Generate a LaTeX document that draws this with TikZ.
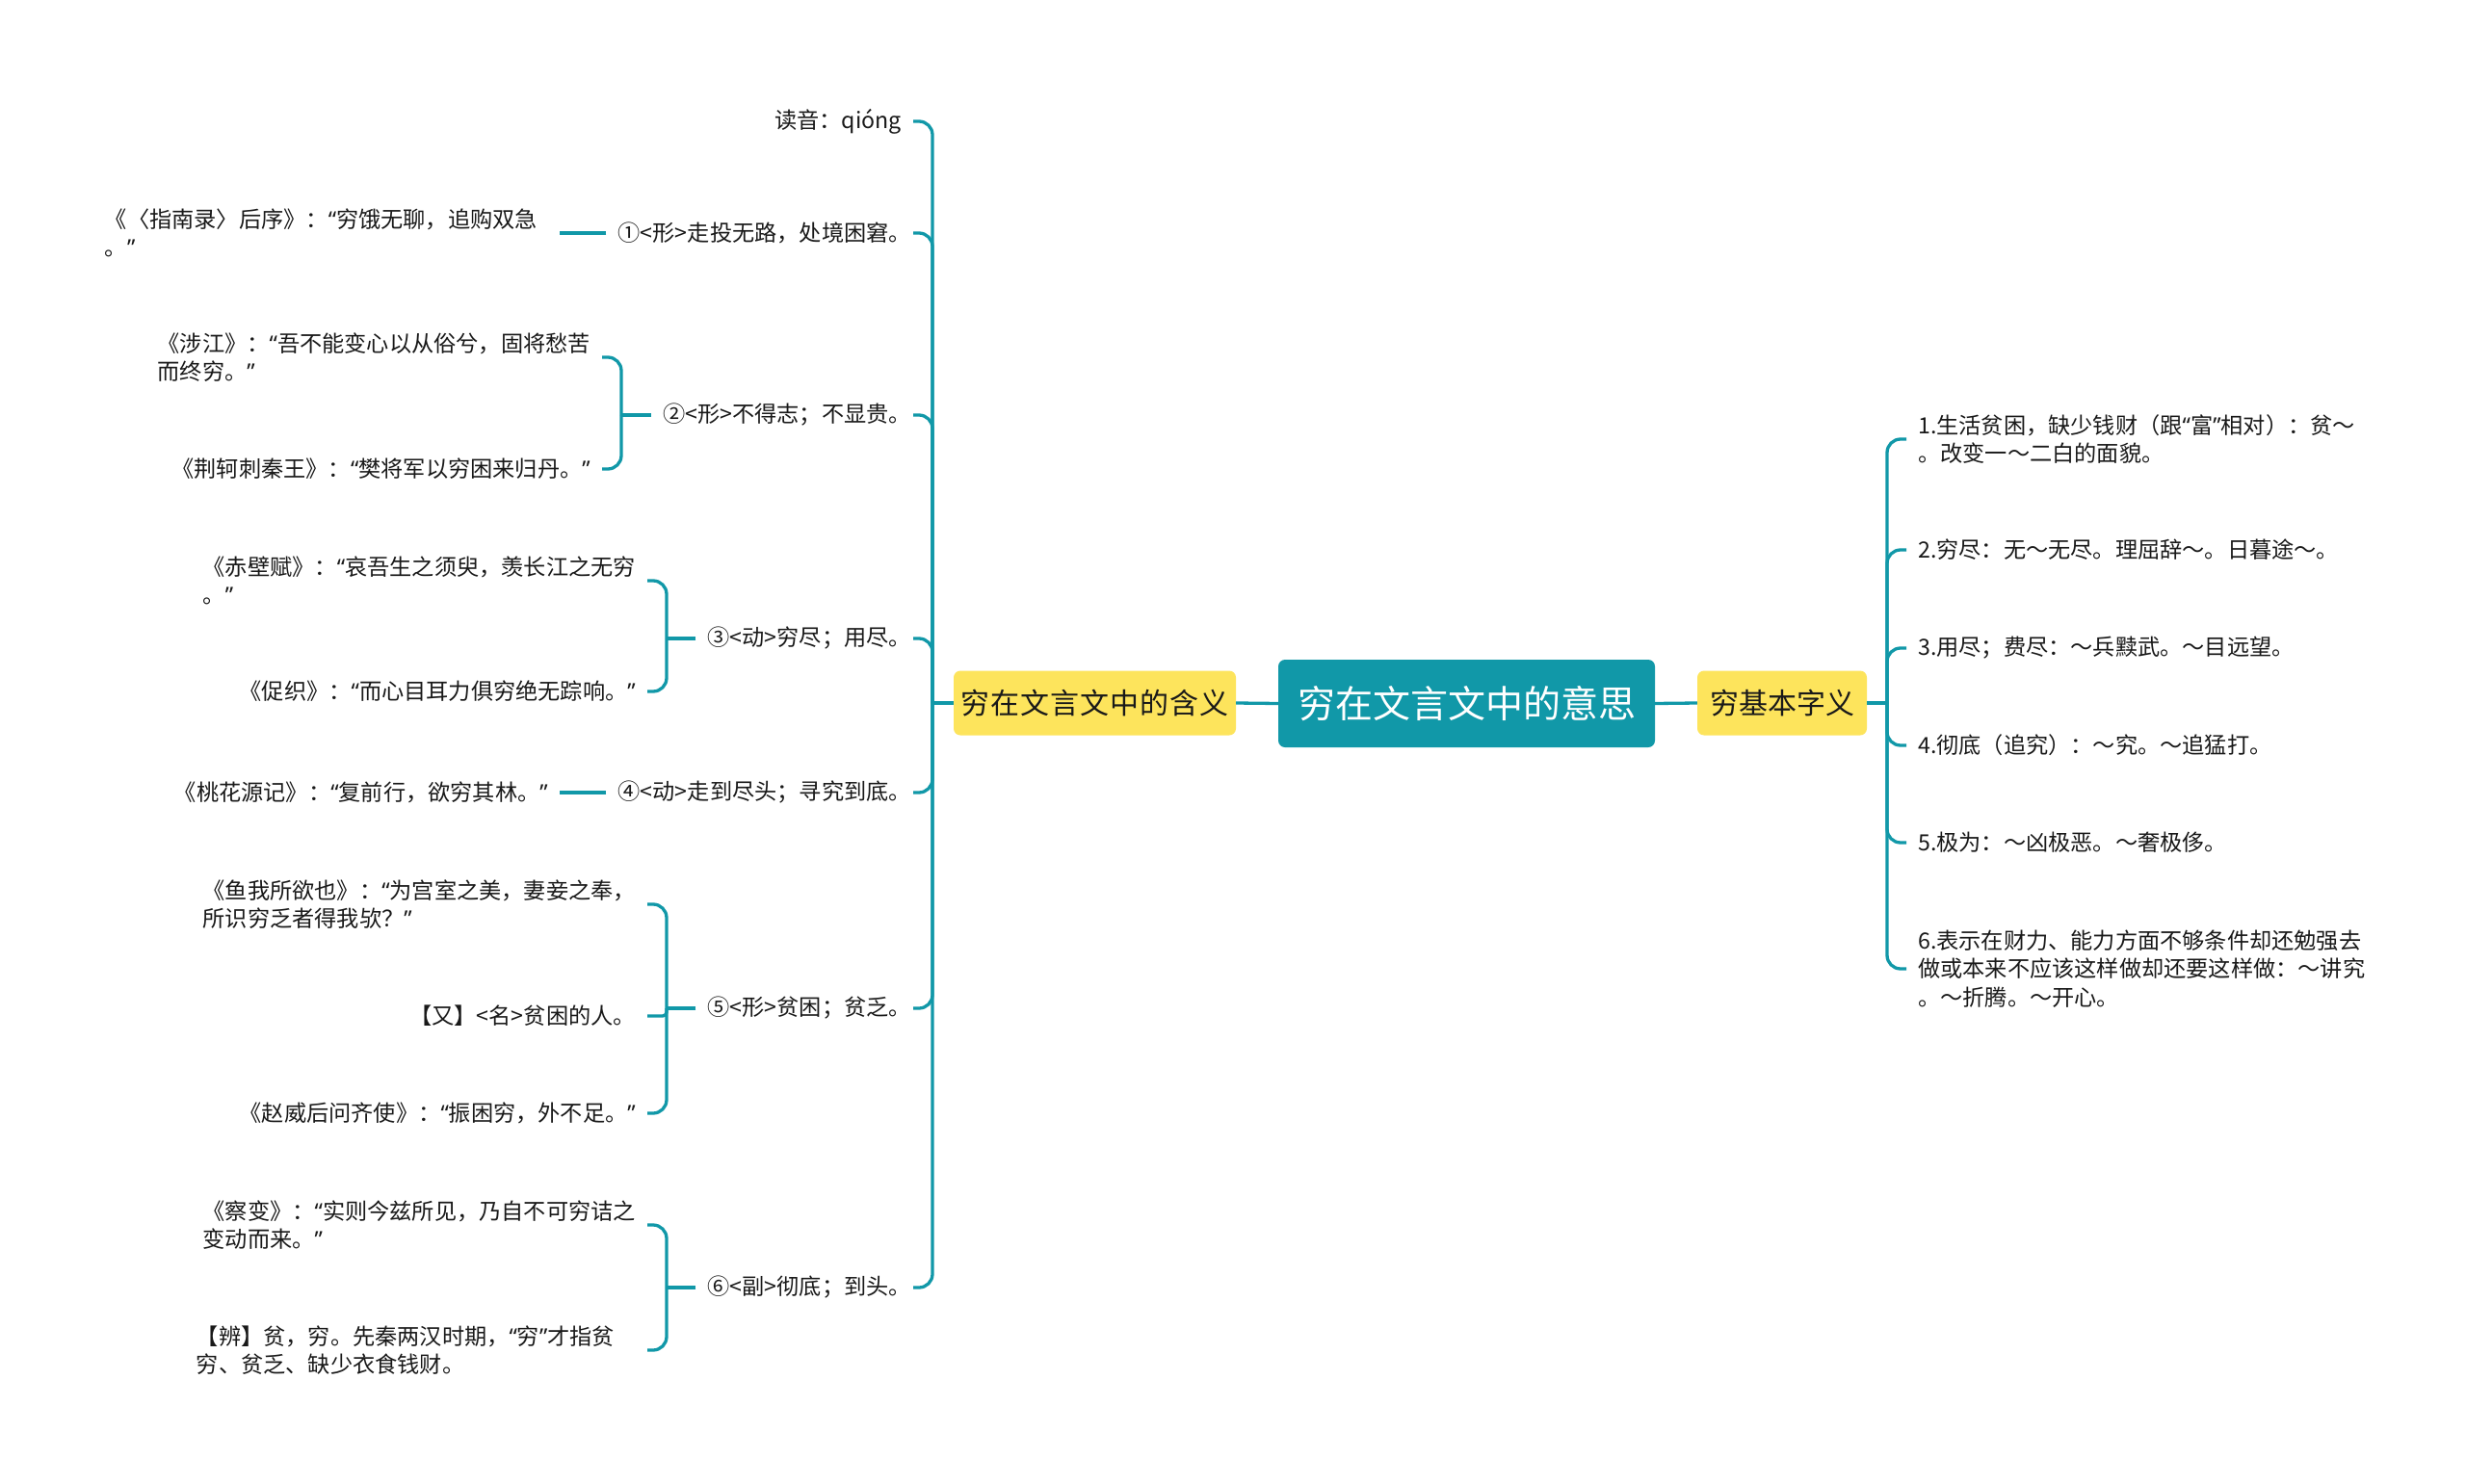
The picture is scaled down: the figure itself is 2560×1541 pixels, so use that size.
\documentclass[tikz,border=0pt]{standalone}
\usepackage{fontspec}
\setmainfont{Noto Sans CJK SC}
\newfontfamily\latinq{Noto Sans}
\newcommand{\myoq}{{\latinq “}}
\newcommand{\mycq}{{\latinq ”}}
\usetikzlibrary{calc}
\definecolor{tealc}{RGB}{17,152,168}
\definecolor{yellowc}{RGB}{253,228,92}
\definecolor{txt}{RGB}{25,25,25}
\begin{document}
\begin{tikzpicture}[x=1pt,y=-1pt,
  conn/.style={draw=tealc,line width=3.3pt},
  rc/.style={conn,rounded corners=14pt},
  root/.style={fill=tealc,text=white,rounded corners=7pt,minimum width=391pt,minimum height=91pt,inner sep=0pt,font=\fontsize{39}{45}\selectfont},
  mainn/.style={fill=yellowc,text=txt,rounded corners=7pt,minimum height=67pt,inner sep=0pt,font=\fontsize{30}{36}\selectfont},
  lv/.style={text=txt,inner xsep=12pt,inner ysep=2pt,font=\fontsize{23.2}{29.5}\selectfont,align=left},
  ltwo/.style={lv,inner xsep=2pt},
]
\useasboundingbox (0,0) rectangle (2560,1541);
\fill[white] (0,0) rectangle (2560,1541);

% central and main branches
\node[root] (root) at (1522.5,730.5) {穷在文言文中的意思};
\node[mainn,minimum width=293pt] (lm) at (1136.5,730) {\addfontfeature{LetterSpace=3}穷在文言文中的含义};
\node[mainn,minimum width=176pt] (rm) at (1850,730) {穷基本字义};

% right side
\node[lv,anchor=west] (s1) at (1979,456) {1.生活贫困，缺少钱财（跟\myoq{}富\mycq{}相对）：贫～\\。改变一～二白的面貌。};
\node[lv,anchor=west] (s2) at (1979,571) {2.穷尽：无～无尽。理屈辞～。日暮途～。};
\node[lv,anchor=west] (s3) at (1979,673) {3.用尽；费尽：～兵黩武。～目远望。};
\node[lv,anchor=west] (s4) at (1979,774) {4.彻底（追究）：～究。～追猛打。};
\node[lv,anchor=west] (s5) at (1979,875) {5.极为：～凶极恶。～奢极侈。};
\node[lv,anchor=west] (s6) at (1979,1006) {6.表示在财力、能力方面不够条件却还勉强去\\做或本来不应该这样做却还要这样做：～讲究\\。～折腾。～开心。};

% left level 2
\node[lv,anchor=east] (r0) at (948,126) {读音：qióng};
\node[ltwo,anchor=east] (r1) at (948,242) {①<形>走投无路，处境困窘。};
\node[ltwo,anchor=east] (r2) at (948,431) {②<形>不得志；不显贵。};
\node[ltwo,anchor=east] (r3) at (948,663) {③<动>穷尽；用尽。};
\node[ltwo,anchor=east] (r4) at (948,823) {④<动>走到尽头；寻究到底。};
\node[ltwo,anchor=east] (r5) at (948,1047) {⑤<形>贫困；贫乏。};
\node[ltwo,anchor=east] (r6) at (948,1337) {⑥<副>彻底；到头。};

% left level 3
\node[lv,anchor=east,text width=460pt] (c1) at (581,242) {《〈指南录〉后序》：\myoq{}穷饿无聊，追购双急\\。\mycq{}};
\node[lv,anchor=east] (c2a) at (625,371) {《涉江》：\myoq{}吾不能变心以从俗兮，固将愁苦\\而终穷。\mycq{}};
\node[lv,anchor=east] (c2b) at (625,487) {《荆轲刺秦王》：\myoq{}樊将军以穷困来归丹。\mycq{}};
\node[lv,anchor=east] (c3a) at (672,603) {《赤壁赋》：\myoq{}哀吾生之须臾，羡长江之无穷\\。\mycq{}};
\node[lv,anchor=east] (c3b) at (672,718) {《促织》：\myoq{}而心目耳力俱穷绝无踪响。\mycq{}};
\node[lv,anchor=east] (c4) at (581,823) {《桃花源记》：\myoq{}复前行，欲穷其林。\mycq{}};
\node[lv,anchor=east] (c5a) at (672,939) {《鱼我所欲也》：\myoq{}为宫室之美，妻妾之奉，\\所识穷乏者得我欤？\mycq{}};
\node[lv,anchor=east] (c5b) at (672,1055) {【又】<名>贫困的人。};
\node[lv,anchor=east] (c5c) at (672,1156) {《赵威后问齐使》：\myoq{}振困穷，外不足。\mycq{}};
\node[lv,anchor=east] (c6a) at (672,1272) {《察变》：\myoq{}实则今兹所见，乃自不可穷诘之\\变动而来。\mycq{}};
\node[lv,anchor=east,text width=456pt] (c6b) at (672,1402) {【辨】贫，穷。先秦两汉时期，\myoq{}穷\mycq{}才指贫\\穷、贫乏、缺少衣食钱财。};

% connectors: centre
\draw[conn] (root.west) -- (lm.east);
\draw[conn] (root.east) -- (rm.west);

% left main bracket
\coordinate (bl) at (968,730);
\draw[conn] (lm.west) -- (bl);
\foreach \k in {r0,r1,r2,r3,r4,r5,r6} \draw[rc] (bl) |- (\k.east);

% right main bracket
\coordinate (br) at (1959,730);
\draw[conn] (rm.east) -- (br);
\foreach \k in {s1,s2,s3,s4,s5,s6} \draw[rc] (br) |- (\k.west);

% level 3 connectors
\draw[conn] ([xshift=-10pt]r1.west) -- (c1.east);
\coordinate (b2) at (645,431);
\draw[conn] ([xshift=-10pt]r2.west) -- (b2);
\draw[rc] (b2) |- (c2a.east);
\draw[rc] (b2) |- (c2b.east);
\coordinate (b3) at (692,663);
\draw[conn] ([xshift=-10pt]r3.west) -- (b3);
\draw[rc] (b3) |- (c3a.east);
\draw[rc] (b3) |- (c3b.east);
\draw[conn] ([xshift=-10pt]r4.west) -- (c4.east);
\coordinate (b5) at (692,1047);
\draw[conn] ([xshift=-10pt]r5.west) -- (b5);
\draw[rc] (b5) |- (c5a.east);
\draw[conn,rounded corners=4pt] (b5) |- (c5b.east);
\draw[rc] (b5) |- (c5c.east);
\coordinate (b6) at (692,1337);
\draw[conn] ([xshift=-10pt]r6.west) -- (b6);
\draw[rc] (b6) |- (c6a.east);
\draw[rc] (b6) |- (c6b.east);
\end{tikzpicture}
\end{document}
